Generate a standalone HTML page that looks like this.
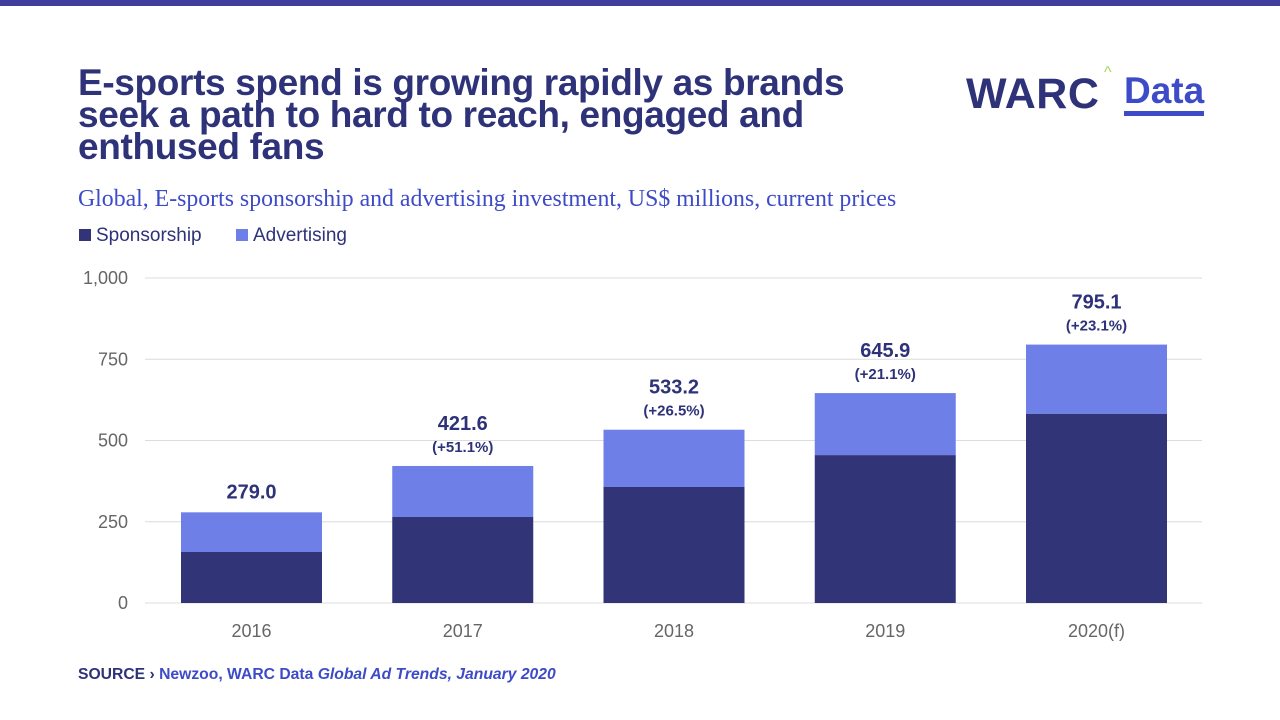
<!DOCTYPE html>
<html><head><meta charset="utf-8"><style>
body{margin:0;width:1280px;height:720px;background:#fff;position:relative;overflow:hidden;font-family:"Liberation Sans",sans-serif}
.abs{position:absolute}
</style></head><body>
<div class="abs" style="left:0;top:0;width:1280px;height:6px;background:#3e3f9c"></div>
<div class="abs" style="left:78px;top:67px;width:800px;font-size:37px;line-height:32px;font-weight:bold;color:#2e3278;letter-spacing:-0.35px">E-sports spend is growing rapidly as brands seek a path to hard to reach, engaged and enthused fans</div>
<div class="abs" style="left:966px;top:70px;width:240px;height:48px">
<span style="position:absolute;left:0;top:0;font-size:43px;font-weight:bold;color:#2e3278;letter-spacing:0.5px">WARC</span>
<span style="position:absolute;left:138px;top:-6px;font-size:16px;color:#a8d45a">^</span>
<span style="position:absolute;left:158px;top:0;font-size:37px;font-weight:bold;color:#3d4bc8">Data</span>
<div style="position:absolute;left:158px;top:41px;width:80px;height:5px;background:#3d4bc8"></div>
</div>
<div class="abs" style="left:78px;top:186px;font-family:'Liberation Serif',serif;font-size:23.8px;color:#3d4bc8">Global, E-sports sponsorship and advertising investment, US$ millions, current prices</div>
<div class="abs" style="left:79px;top:225px;font-size:19px;color:#2e3278"><span style="display:inline-block;width:12px;height:12px;background:#313578;margin-right:5px"></span>Sponsorship</div>
<div class="abs" style="left:236px;top:225px;font-size:19px;color:#2e3278"><span style="display:inline-block;width:12px;height:12px;background:#6f7fe8;margin-right:5px"></span>Advertising</div>
<svg class="abs" style="left:0;top:0" width="1280" height="720" id="chart"></svg>
<div class="abs" style="left:78px;top:666px;font-size:15.7px;font-weight:bold;color:#2e3278">SOURCE › <span style="color:#3d4bc8">Newzoo, WARC Data <i>Global Ad Trends, January 2020</i></span></div>
<script>
const categories=["2016","2017","2018","2019","2020(f)"];
const sponsorship=[157,265,357,455,582];
const totals=[279.0,421.6,533.2,645.9,795.1];
const growth=["","(+51.1%)","(+26.5%)","(+21.1%)","(+23.1%)"];
const yTicks=[0,250,500,750,1000];
const yTickLabels=["0","250","500","750","1,000"];
const svg=document.getElementById('chart');
const NS='http://www.w3.org/2000/svg';
const y=v=>603-v*0.325;
const xc=i=>251.5+i*211.25;
const bw=141;
function mk(t,a){const e=document.createElementNS(NS,t);for(const k in a)e.setAttribute(k,a[k]);svg.appendChild(e);return e;}
yTicks.forEach((t,i)=>{
 const l=mk('line',{x1:145,x2:1202,y1:y(t),y2:y(t),stroke:'#dcdcdc','stroke-width':1});
 
 
 const tx=mk('text',{x:128,y:y(t)+6,'text-anchor':'end','font-size':18,fill:'#666','font-family':'Liberation Sans'});
 tx.textContent=yTickLabels[i];
 
 
});
categories.forEach((c,i)=>{
 const x0=xc(i)-bw/2;
 const a=mk('rect',{x:x0,y:y(totals[i]),width:bw,height:y(sponsorship[i])-y(totals[i]),fill:'#6f7fe8'});
 
 
 const s=mk('rect',{x:x0,y:y(sponsorship[i]),width:bw,height:603-y(sponsorship[i]),fill:'#313578'});
 
 
 const lab=mk('text',{x:xc(i),y:637,'text-anchor':'middle','font-size':18,fill:'#666','font-family':'Liberation Sans'});
 lab.textContent=c;
 
 
 const off=growth[i]?36:14;
 const v=mk('text',{x:xc(i),y:y(totals[i])-off,'text-anchor':'middle','font-size':20,'font-weight':'bold',fill:'#2e3278','font-family':'Liberation Sans'});
 v.textContent=totals[i].toFixed(1);
 
 
 if(growth[i]){
  const g=mk('text',{x:xc(i),y:y(totals[i])-14,'text-anchor':'middle','font-size':15,'font-weight':'bold',fill:'#2e3278','font-family':'Liberation Sans'});
  g.textContent=growth[i];
  
  
 }
});
</script>
</body></html>
